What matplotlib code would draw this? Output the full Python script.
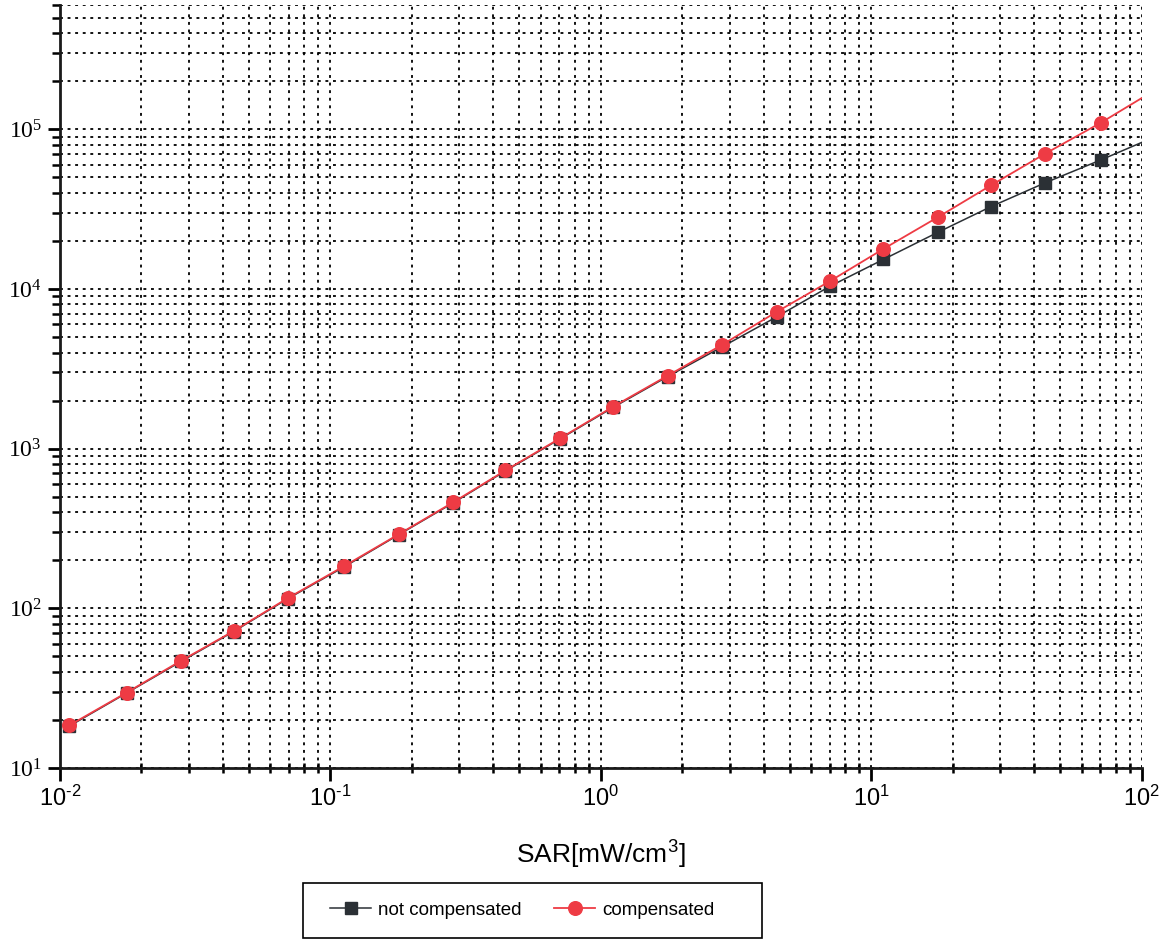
import math
import matplotlib
matplotlib.use("Agg")
import matplotlib.pyplot as plt
from matplotlib.patches import Rectangle
from matplotlib.ticker import LogLocator, FuncFormatter, NullFormatter

# ---- data ----
sar = [0.01083, 0.01765, 0.02805, 0.04382, 0.0696, 0.1125, 0.1788, 0.284,
       0.4437, 0.7053, 1.111, 1.766, 2.806, 4.46, 7.03, 11.07, 17.58, 27.7,
       44.0, 70.6]
not_compensated = [18.3, 29.5, 46.5, 71.5, 115, 182, 289, 457, 725, 1150,
                   1815, 2830, 4340, 6680, 10400, 15300, 22600, 32800,
                   46300, 64300]
compensated = [18.5, 29.7, 47, 72, 116, 184, 291, 461, 731, 1159, 1834,
               2866, 4470, 7180, 11200, 17800, 28100, 44600, 70500, 110000]
# the drawn lines continue to the right edge of the axis
line_end_x = [100.0]
not_comp_end = [82800]
comp_end = [157000]

x_label = "SAR[mW/cm$\\mathregular{^3}$]"
series_labels = ["not compensated", "compensated"]

W, H = 1164, 944
fig = plt.figure(figsize=(W / 100, H / 100), dpi=100)
ax = fig.add_axes([0.0515, 0.1864, 0.9295, 0.8083])
ax.set_xscale("log")
ax.set_yscale("log")
ax.set_xlim(1e-2, 1e2)
ax.set_ylim(10, 6e5)

black = "#2b3035"
red = "#ee3b44"
sq_ms = 8.5
ci_ms = 9.8

ax.plot(sar + line_end_x, not_compensated + not_comp_end, color=black, lw=1.1, zorder=3)
ax.plot(sar, not_compensated, linestyle="none", marker="s", ms=sq_ms,
        mfc=black, mec=black, zorder=4)
ax.plot(sar + line_end_x, compensated + comp_end, color=red, lw=1.3, zorder=5)
ax.plot(sar, compensated, linestyle="none", marker="o", ms=ci_ms,
        mfc=red, mec=red, zorder=6)

# legend proxies
h1, = ax.plot([], [], color=black, lw=1.1, marker="s", ms=sq_ms, mfc=black, mec=black)
h2, = ax.plot([], [], color=red, lw=1.3, marker="o", ms=ci_ms, mfc=red, mec=red)

# spines
for s in ["top", "right"]:
    ax.spines[s].set_visible(False)
for s in ["left", "bottom"]:
    ax.spines[s].set_linewidth(2.0)
    ax.spines[s].set_color("#1a1a1a")

# ticks
ax.xaxis.set_major_locator(LogLocator(base=10, numticks=10))
ax.xaxis.set_minor_locator(LogLocator(base=10, subs=range(2, 10), numticks=100))
ax.yaxis.set_major_locator(LogLocator(base=10, numticks=10))
ax.yaxis.set_minor_locator(LogLocator(base=10, subs=range(2, 10), numticks=100))


def pow_label(v, p):
    e = int(round(math.log10(v)))
    es = ("\u2010%d" % -e) if e < 0 else "%d" % e
    return "$\\mathregular{10^{%s}}$" % es


fmt = FuncFormatter(pow_label)
ax.xaxis.set_major_formatter(fmt)
ax.yaxis.set_major_formatter(fmt)
ax.xaxis.set_minor_formatter(NullFormatter())
ax.yaxis.set_minor_formatter(NullFormatter())

ax.tick_params(axis="x", which="major", direction="out", length=9, width=2.0,
               pad=4, labelsize=17)
ax.tick_params(axis="x", which="minor", direction="inout", length=7, width=1.8)
ax.tick_params(axis="y", which="major", direction="out", length=9, width=2.0,
               pad=4, labelsize=17)
ax.tick_params(axis="y", which="minor", direction="out", length=6, width=1.8)
for lab in ax.get_xticklabels():
    lab.set_fontfamily("Liberation Sans")
for lab in ax.get_yticklabels():
    lab.set_fontfamily("Liberation Serif")

# dotted grid
ax.grid(True, which="both", color="black", linestyle=(0, (1.6, 2.6)), linewidth=1.3)
ax.set_axisbelow(True)

ax.set_xlabel(x_label, fontsize=19, family="Liberation Sans", labelpad=20)

# legend: frame drawn as its own box, entries placed inside
fig.patches.append(Rectangle((303 / W, 1 - 938 / H), 459 / W, 55 / H,
                             transform=fig.transFigure, fill=False,
                             edgecolor="black", linewidth=1.2))
leg = fig.legend([h1, h2], series_labels, loc="center left",
                 bbox_to_anchor=(330 / W, 1 - 910 / H), ncol=2, frameon=False,
                 handlelength=2.2, handletextpad=0.35, columnspacing=1.75,
                 borderpad=0, borderaxespad=0,
                 prop={"family": "Liberation Sans", "size": 13.5})

fig.savefig("out.png", dpi=100)
